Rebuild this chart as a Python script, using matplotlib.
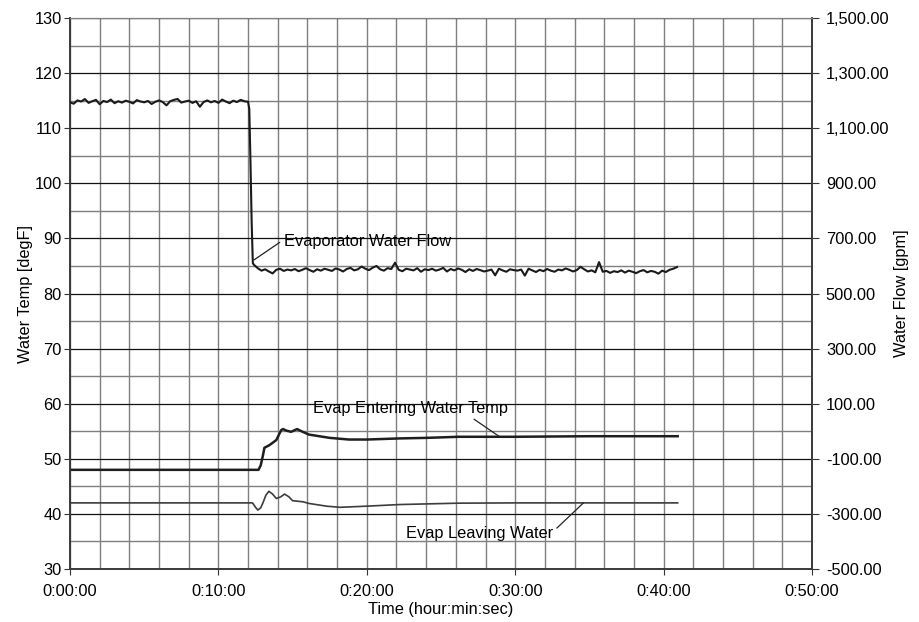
import numpy as np
import matplotlib.pyplot as plt
from matplotlib.ticker import MultipleLocator, FuncFormatter

plt.rcParams['font.family'] = ['Liberation Sans', 'DejaVu Sans']
plt.rcParams['font.size'] = 11.8

# evaporator water flow [gpm], sampled every 0.25 min before and after the step
flow_dt = 0.25
flow_pre_start = 0.0
flow_pre = [1194, 1189, 1201, 1197, 1206, 1192, 1198, 1203, 1187, 1199,
            1195, 1204, 1191, 1198, 1193, 1200, 1196, 1190, 1202, 1197,
            1194, 1199, 1188, 1196, 1201, 1195, 1183, 1198, 1203, 1206,
            1193, 1197, 1200, 1192, 1198, 1178, 1195, 1201, 1194, 1199,
            1192, 1204, 1197, 1191, 1200, 1195, 1203, 1198, 1196]
flow_step_t = [12.08, 12.16, 12.24, 12.32]
flow_step = [1170, 980, 760, 610]
flow_post_start = 12.4
flow_post = [604, 592, 583, 588, 580, 573, 586, 590, 582, 587,
             584, 589, 581, 586, 592, 585, 579, 588, 583, 590,
             586, 582, 591, 587, 580, 589, 593, 584, 588, 598,
             590, 585, 594, 600, 588, 583, 592, 589, 612, 586,
             581, 590, 587, 584, 592, 579, 588, 585, 590, 583,
             587, 593, 580, 589, 584, 591, 586, 578, 588, 582,
             589, 585, 580, 583, 587, 566, 590, 584, 579, 588,
             585, 583, 587, 565, 590, 584, 578, 586, 581, 589,
             583, 579, 587, 584, 591, 586, 580, 585, 597, 588,
             580, 584, 577, 614, 579, 582, 575, 581, 578, 584,
             576, 583, 579, 574, 581, 585, 577, 582, 579, 572,
             583, 578, 586, 590, 596]

# evap entering water temp [degF]
ent_t = [0, 12.7, 12.85, 13.0, 13.1, 13.45, 13.9, 14.23, 14.35, 14.6, 14.9,
         15.3, 15.6, 16.1, 16.8, 17.5, 18.8, 20.0, 22.2, 24.0, 26.2, 30.0,
         35.0, 40.95]
ent_temp = [48.0, 48.0, 48.8, 50.6, 52.0, 52.5, 53.4, 55.2, 55.4, 55.1, 54.9,
            55.4, 55.0, 54.4, 54.1, 53.8, 53.5, 53.5, 53.7, 53.8, 54.0, 54.0,
            54.1, 54.1]

# evap leaving water temp [degF]
lvg_t = [0, 12.3, 12.5, 12.66, 12.85, 13.0, 13.2, 13.4, 13.65, 13.9, 14.2,
         14.46, 14.75, 15.0, 15.7, 16.1, 17.3, 18.2, 19.95, 22.2, 26.2, 30.0,
         40.95]
lvg_temp = [42.0, 42.0, 41.2, 40.7, 41.1, 42.0, 43.4, 44.1, 43.6, 42.8, 43.1,
            43.6, 43.1, 42.4, 42.2, 41.9, 41.4, 41.2, 41.4, 41.7, 41.95, 42.0,
            42.0]

x_major = [0, 10, 20, 30, 40, 50]
x_labels = ['0:00:00', '0:10:00', '0:20:00', '0:30:00', '0:40:00', '0:50:00']
flow_ticks = [-500, -300, -100, 100, 300, 500, 700, 900, 1100, 1300, 1500]

flow_t = list(flow_pre_start + flow_dt * np.arange(len(flow_pre))) + flow_step_t + \
    list(flow_post_start + flow_dt * np.arange(len(flow_post)))
flow = flow_pre + flow_step + flow_post

fig = plt.figure(figsize=(9.2, 6.22), dpi=100)
ax = fig.add_axes([0.0761, 0.0852, 0.8065, 0.8858])
ax2 = ax.twinx()

ax.set_xlim(0, 50)
ax.set_ylim(30, 130)
ax2.set_ylim(-500, 1500)

ax.xaxis.set_minor_locator(MultipleLocator(2))
ax.yaxis.set_major_locator(MultipleLocator(10))
ax.yaxis.set_minor_locator(MultipleLocator(5))

ax.set_xticks(x_major)
ax.set_xticklabels(x_labels)
ax2.set_yticks(flow_ticks)
ax2.yaxis.set_major_formatter(FuncFormatter(lambda v, p: f'{v:,.2f}'))

ax.grid(True, which='minor', color='#7f7f7f', lw=1.0)
ax.grid(True, which='major', axis='x', color='#7f7f7f', lw=1.0)
ax.grid(True, which='major', axis='y', color='#111111', lw=0.9)
ax.set_axisbelow(True)

ax.tick_params(which='minor', length=0)
ax.tick_params(axis='x', which='major', direction='out', length=4, color='#333333', pad=7)
ax.tick_params(axis='y', which='major', direction='out', length=4, color='#333333', pad=2)
ax2.tick_params(which='major', direction='out', length=5, color='#333333', pad=5)

for s in ['left', 'bottom', 'right']:
    ax.spines[s].set_color('#3a3a3a')
    ax.spines[s].set_linewidth(1.2)
    ax2.spines[s].set_color('#3a3a3a')
    ax2.spines[s].set_linewidth(1.2)
ax.spines['top'].set_color('#7f7f7f')
ax2.spines['top'].set_color('#7f7f7f')

ax.plot(ent_t, ent_temp, color='#1e1e1e', lw=1.8, zorder=3)
ax.plot(lvg_t, lvg_temp, color='#3c3c3c', lw=1.2, zorder=3)
ax2.plot(flow_t, flow, color='#1a1a1a', lw=1.5, zorder=3)

ax.set_xlabel('Time (hour:min:sec)', labelpad=2)
ax.set_ylabel('Water Temp [degF]', labelpad=1)
ax2.set_ylabel('Water Flow [gpm]', labelpad=3)

line_kw = dict(arrowstyle='-', color='#222222', lw=0.9, shrinkA=1, shrinkB=0)
ax.annotate('Evaporator Water Flow', xy=(12.4, 86.1), xytext=(14.4, 89.5),
            va='center', ha='left',
            arrowprops=dict(relpos=(0, 0.6), **line_kw))
ax.annotate('Evap Entering Water Temp', xy=(28.9, 54.1), xytext=(16.36, 59.2),
            va='center', ha='left',
            arrowprops=dict(relpos=(0.8, 0.0), **line_kw))
ax.annotate('Evap Leaving Water', xy=(34.6, 42.0), xytext=(32.55, 36.5),
            va='center', ha='right',
            arrowprops=dict(relpos=(1.0, 0.6), **line_kw))

fig.savefig('out.png', dpi=100)
